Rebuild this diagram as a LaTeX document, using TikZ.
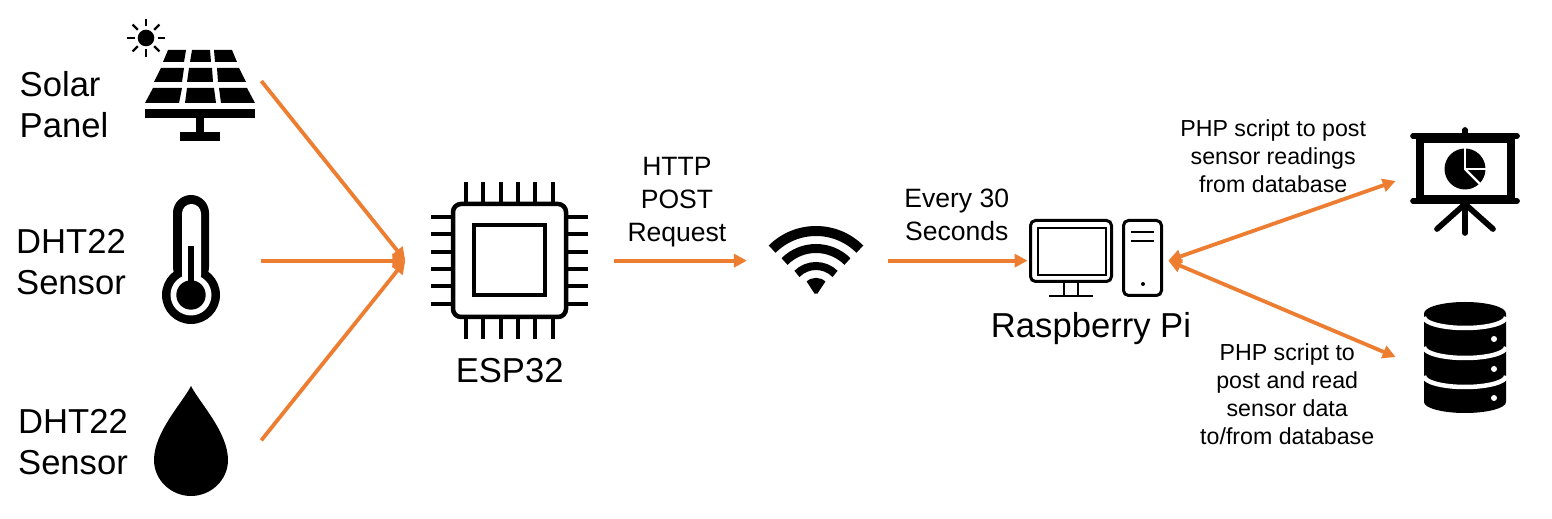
\documentclass[tikz,border=0pt]{standalone}
\usepackage{fontspec}
\setmainfont{Liberation Sans}
\usetikzlibrary{arrows.meta,positioning}

\definecolor{wireorange}{HTML}{ED7D31}

\tikzset{
    iconbox/.style = {minimum width = 28mm, minimum height = 25.2mm, inner sep = 0pt},
    bigtext/.style = {font = \fontsize{19.7}{23.3}\selectfont, inner sep = 0pt},
    midtext/.style = {font = \fontsize{15.1}{18.8}\selectfont, inner sep = 0pt, align = center},
    smalltext/.style = {font = \fontsize{13.2}{15.9}\selectfont, inner sep = 0pt, align = center},
    wire/.style = {draw = wireorange, line width = 0.76mm}
}

\begin{document}
\begin{tikzpicture}[
    x = 0.02cm, y = -0.02cm, % one unit is one pixel, y going down
    > = {Triangle[length = 2.6mm, width = 2.6mm]}, % arrow head style
    node distance = 10.6mm % distance between nodes
    ]

    \useasboundingbox (0,0) rectangle (1552,519);

    \node[iconbox] (panel) at (191,81) {};
    \node[iconbox] (thermo) [below=of panel] {};
    \node[iconbox] (drop) [below=of thermo] {};
    \node[iconbox, minimum width = 41.6mm] (chip) [right=28.8mm of thermo] {};
    \node[iconbox] (wifi) [right=26.6mm of chip] {};
    \node[iconbox] (pc) [right=28mm of wifi] {};
    \node[iconbox] (screen) at (1466,181) {};
    \node[iconbox] (db) at (1466,357) {};

    \node[bigtext, align = left] (panellabel) at (64,105) {Solar\\Panel};
    \node[bigtext, align = center] (thermolabel) at (71,262) {DHT22\\Sensor};
    \node[bigtext, align = center] (droplabel) at (73,442) {DHT22\\Sensor};
    \node[bigtext] (chiplabel) [below=6.7mm of chip] {ESP32};
    \node[bigtext] (pclabel) at (1091,328.5) {Raspberry Pi};

    % solar panel
    \fill (168,50) -- (186,50) -- (184,62) -- (163,62) -- cycle;
    \fill (192,50) -- (210,50) -- (211,62) -- (190,62) -- cycle;
    \fill (214,50) -- (232,50) -- (237,62) -- (215,62) -- cycle;
    \fill (161,68) -- (184,68) -- (182,82) -- (154,82) -- cycle;
    \fill (189,68) -- (212,68) -- (213,82) -- (187,82) -- cycle;
    \fill (217,68) -- (239,68) -- (246,82) -- (218,82) -- cycle;
    \fill (153,88) -- (182,88) -- (179,103) -- (145,103) -- cycle;
    \fill (187,88) -- (214,88) -- (216,103) -- (185,103) -- cycle;
    \fill (219,88) -- (247,88) -- (255,103) -- (221,103) -- cycle;
    \fill (145,109) rectangle (255,118);
    \fill (196,118) rectangle (204,132);
    \fill (180,132) rectangle (220,141);
    \fill (146,38) circle[radius=8.3];
    \foreach \a in {0,45,...,315}
        \draw[line width = 0.46mm] ([shift={(\a:11.5)}]146,38) -- ([shift={(\a:19)}]146,38);

    % thermometer
    \fill[rounded corners = 3.6mm] (173,195) rectangle (209,285);
    \fill (191,295) circle[radius=29];
    \fill[white, rounded corners = 1.9mm] (182,204) rectangle (201,285);
    \fill[white] (191,295) circle[radius=20.5];
    \fill (191,295) circle[radius=14.7];
    \fill (188,246) rectangle (194,285);

    % drop
    \fill (191,386) .. controls (183,402) and (154,432) .. (154,460)
        .. controls (154,480) and (171,496) .. (191,496)
        .. controls (211,496) and (228,480) .. (228,460)
        .. controls (228,432) and (199,402) .. (191,386);

    % chip
    \draw[line width = 0.9mm, rounded corners = 1.6mm] (453,204) rectangle (566,317);
    \draw[line width = 0.8mm] (474,225) rectangle (545,295);
    \foreach \p in {466,483.3,500.7,518,535.3,552.7} {
        \draw[line width = 0.86mm] (\p,182) -- (\p,202);
        \draw[line width = 0.86mm] (\p,319) -- (\p,339);
    }
    \foreach \p in {217,234.3,251.7,269,286.3,303.7} {
        \draw[line width = 0.86mm] (431,\p) -- (451,\p);
        \draw[line width = 0.86mm] (568,\p) -- (588,\p);
    }

    % wifi
    \foreach \r/\w in {62/2mm, 44.5/1.8mm, 27/1.6mm, 7.5/3mm}
        \draw[line width = \w] ([shift={(225:\r)}]816,293) arc[start angle=225, end angle=315, radius=\r];

    % raspberry pi
    \draw[line width = 0.6mm, rounded corners = 1mm] (1030.5,220.5) rectangle (1111.5,281.5);
    \draw[line width = 0.5mm] (1038,228) rectangle (1106,275);
    \draw[line width = 0.55mm] (1064,283) -- (1064,296);
    \draw[line width = 0.55mm] (1078,283) -- (1078,296);
    \draw[line width = 0.55mm] (1049,296) -- (1093,296);
    \draw[line width = 0.6mm, rounded corners = 1mm] (1123.5,220.5) rectangle (1161.5,295.5);
    \draw[line width = 0.5mm] (1131,232) -- (1154,232);
    \draw[line width = 0.5mm] (1131,241) -- (1154,241);
    \fill (1143,284) circle[radius=2];

    % presentation screen
    \fill (1416,133) rectangle (1515,204);
    \fill[white] (1424,143) rectangle (1507,195);
    \draw[line width = 1.14mm, line cap = round] (1413,136) -- (1517,136);
    \draw[line width = 1.14mm, line cap = round] (1413,201) -- (1517,201);
    \draw[line width = 1.14mm, line cap = round] (1465,130) -- (1465,136);
    \draw[line width = 1.14mm, line cap = round] (1465,204) -- (1465,233);
    \draw[line width = 1.14mm, line cap = round] (1465,204) -- (1437,229);
    \draw[line width = 1.14mm, line cap = round] (1465,204) -- (1493,229);
    \fill (1465,169) circle[radius=20.5];
    \draw[white, line width = 0.45mm] (1465,147) -- (1465,169) -- (1487,169);
    \draw[white, line width = 0.45mm] (1465,169) -- (1481,185);

    % database
    \fill (1424,313.5) arc[start angle=180, end angle=360, x radius=41, y radius=11.5]
        -- (1506,402) arc[start angle=0, end angle=180, x radius=41, y radius=11] -- cycle;
    \foreach \h in {317,347,376}
        \draw[white, line width = 0.9mm] (1424,\h) arc[start angle=180, end angle=0, x radius=41, y radius=11];
    \foreach \h in {339,369,398}
        \fill[white] (1494,\h) circle[radius=3];

    \path (panel.east) edge[wire, ->] (chip.west);
    \path (thermo.east) edge[wire, ->] (chip.west);
    \path (drop.east) edge[wire, ->] (chip.west);
    \path (chip.east) edge[wire, ->] node[midtext, above=2.4mm, xshift=-2] {HTTP\\POST\\Request} (wifi.west);
    \path (wifi.east) edge[wire, ->] node[midtext, above=3.6mm, xshift=-0.5] {Every 30\\Seconds} (pc.west);
    \path (pc.east) edge[wire, <->] node[smalltext, above=5.2mm, xshift=-5] {PHP script to post\\sensor readings\\from database} (screen.west);
    \path (pc.east) edge[wire, <->] node[smalltext, below=6.6mm, xshift=3] {PHP script to\\post and read\\sensor data\\to/from database} (db.west);
\end{tikzpicture}
\end{document}
